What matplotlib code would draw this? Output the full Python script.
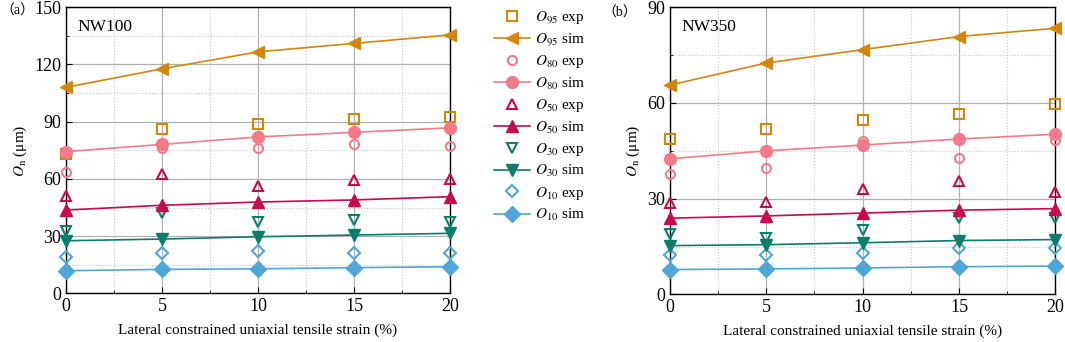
import matplotlib.pyplot as plt
from matplotlib.ticker import MultipleLocator

plt.rcParams['font.family'] = ['Liberation Serif', 'Noto Sans CJK SC']
plt.rcParams['mathtext.fontset'] = 'stix'

strain = [0, 5, 10, 15, 20]
sizes = ['95', '80', '50', '30', '10']
colors = ['#d4860b', '#f47a8a', '#c8084f', '#0b7d6b', '#4ea7d8']
exp_markers = ['s', 'o', '^', 'v', 'D']
sim_markers = ['<', 'o', '^', 'v', 'D']

# NW100
nw100_exp = {
    '95': [73.0, 86.0, 88.8, 91.3, 92.6],
    '80': [63.8, 76.0, 76.2, 78.1, 77.4],
    '50': [51.0, 62.8, 56.5, 59.3, 59.9],
    '30': [32.9, 42.0, 37.2, 38.3, 37.5],
    '10': [19.2, 21.0, 22.0, 21.0, 21.3],
}
nw100_sim = {
    '95': [108.0, 117.7, 126.6, 131.0, 135.5],
    '80': [74.3, 78.1, 82.0, 84.4, 86.8],
    '50': [43.7, 46.2, 47.9, 49.0, 50.7],
    '30': [27.6, 28.5, 29.7, 30.6, 31.5],
    '10': [11.9, 12.6, 12.9, 13.5, 14.0],
}
# NW350
nw350_exp = {
    '95': [48.7, 51.9, 54.6, 56.5, 59.6],
    '80': [37.7, 39.5, 48.2, 42.9, 48.4],
    '50': [28.5, 28.9, 33.0, 35.7, 32.2],
    '30': [19.0, 17.7, 20.3, 23.9, 24.0],
    '10': [12.3, 12.4, 13.0, 14.6, 14.6],
}
nw350_sim = {
    '95': [65.6, 72.5, 76.7, 80.8, 83.4],
    '80': [42.5, 45.0, 46.8, 48.7, 50.2],
    '50': [23.9, 24.6, 25.5, 26.4, 26.9],
    '30': [15.3, 15.6, 16.2, 16.9, 17.2],
    '10': [7.8, 8.0, 8.3, 8.7, 8.9],
}

fig = plt.figure(figsize=(10.65, 3.42), dpi=100)
ax1 = fig.add_axes([0.062, 0.142, 0.3605, 0.837])
ax2 = fig.add_axes([0.629, 0.139, 0.362, 0.84])


def draw_panel(ax, exp, sim, ymax, ystep, name):
    handles = []
    for s, c, me, ms in zip(sizes, colors, exp_markers, sim_markers):
        h1, = ax.plot(strain, exp[s], linestyle='none', marker=me, ms=6.5,
                      mfc='none', mec=c, mew=1.5, clip_on=False, zorder=4,
                      label=f'$O_{{{s}}}$ exp')
        h2, = ax.plot(strain, sim[s], color=c, lw=1.2, marker=ms, ms=8.5,
                      mfc=c, mec=c, clip_on=False, zorder=5,
                      label=f'$O_{{{s}}}$ sim')
        handles += [h1, h2]
    ax.set_xlim(0, 20)
    ax.set_ylim(0, ymax)
    ax.xaxis.set_major_locator(MultipleLocator(5))
    ax.xaxis.set_minor_locator(MultipleLocator(2.5))
    ax.yaxis.set_major_locator(MultipleLocator(ystep))
    ax.yaxis.set_minor_locator(MultipleLocator(ystep / 2))
    ax.grid(which='major', color='#b0b0b0', lw=0.9)
    ax.grid(which='minor', color='#c8c8c8', lw=0.8, ls=':')
    ax.set_axisbelow(True)
    ax.tick_params(which='both', direction='in', labelsize=13)
    ax.tick_params(which='major', length=4)
    ax.tick_params(which='minor', length=2.5)
    for sp in ax.spines.values():
        sp.set_linewidth(1.0)
    ax.set_xlabel('Lateral constrained uniaxial tensile strain (%)', fontsize=11, labelpad=6)
    ax.set_ylabel('$O_\\mathrm{n}$ (μm)', fontsize=11, labelpad=4)
    ax.text(0.03, 0.93, name, transform=ax.transAxes, fontsize=12.5,
            ha='left', va='center')
    return handles


handles = draw_panel(ax1, nw100_exp, nw100_sim, 150, 30, 'NW100')
draw_panel(ax2, nw350_exp, nw350_sim, 90, 30, 'NW350')

# panel tags
fig.text(0.0, 0.968, '（a）', fontsize=10, ha='left', va='center')
fig.text(0.566, 0.962, '（b）', fontsize=10, ha='left', va='center')

fig.legend(handles=handles, loc='upper left', bbox_to_anchor=(0.455, 1.0),
           frameon=False, fontsize=11, handlelength=2.4, labelspacing=0.35,
           handletextpad=0.3, borderaxespad=0.2)

fig.savefig('out.png', dpi=100)
